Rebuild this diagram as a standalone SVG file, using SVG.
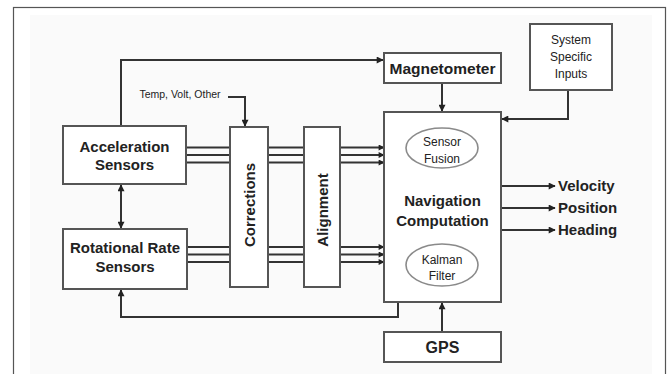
<svg xmlns="http://www.w3.org/2000/svg" width="669" height="374" viewBox="0 0 669 374">
<style>
.box{fill:#fff;stroke:#555;stroke-width:2}
.ell{fill:#fff;stroke:#8a8a8a;stroke-width:1.6}
.ln{fill:none;stroke:#333;stroke-width:2}
.bus{fill:none;stroke:#333;stroke-width:2}
.t{font-family:"Liberation Sans",Arial,sans-serif;fill:#222;text-anchor:middle}
.b{font-weight:bold}
</style>
<defs>
<marker id="ah" viewBox="0 0 10 10" refX="9" refY="5" markerWidth="8" markerHeight="7" markerUnits="userSpaceOnUse" orient="auto-start-reverse">
<path d="M0,0 L10,5 L0,10 z" fill="#222"/>
</marker>
<marker id="sh" viewBox="0 0 10 10" refX="9" refY="5" markerWidth="7" markerHeight="6" markerUnits="userSpaceOnUse" orient="auto">
<path d="M0,0 L10,5 L0,10 z" fill="#222"/>
</marker>
</defs>
<rect x="0" y="0" width="669" height="374" fill="#fff"/>
<rect x="13.5" y="7.5" width="652" height="380" fill="#fff" stroke="#555" stroke-width="1.2"/>
<rect x="30" y="15" width="622" height="360" fill="#fafafa"/>

<g id="connectors">
<!-- top loop to magnetometer -->
<path class="ln" d="M121,126 V60 H383" marker-end="url(#ah)"/>
<!-- temp volt other -->
<path class="ln" d="M228,97 H245 V126" marker-end="url(#ah)"/>
<!-- double arrow -->
<path class="ln" d="M121,185 V228" marker-start="url(#ah)" marker-end="url(#ah)"/>
<!-- feedback loop -->
<path class="ln" d="M398,302 V317 H121 V290" marker-end="url(#ah)"/>
<!-- magnetometer to nav -->
<path class="ln" d="M442,83 V111" marker-end="url(#ah)"/>
<!-- system inputs to nav -->
<path class="ln" d="M568,90 V119 H502" marker-end="url(#ah)"/>
<!-- GPS to nav -->
<path class="ln" d="M442,332 V303" marker-end="url(#ah)"/>
<!-- outputs -->
<path class="ln" d="M501,186 H555" marker-end="url(#ah)"/>
<path class="ln" d="M501,208 H555" marker-end="url(#ah)"/>
<path class="ln" d="M501,230 H555" marker-end="url(#ah)"/>
<!-- buses acceleration -->
<path class="bus" d="M186,147.5 H230 M186,155 H230 M186,162.5 H230"/>
<path class="bus" d="M268,147.5 H304 M268,155 H304 M268,162.5 H304"/>
<path class="bus" d="M340,147.5 H384" marker-end="url(#sh)"/>
<path class="bus" d="M340,155 H384" marker-end="url(#sh)"/>
<path class="bus" d="M340,162.5 H384" marker-end="url(#sh)"/>
<!-- buses rotational -->
<path class="bus" d="M187,247 H230 M187,254.5 H230 M187,262 H230"/>
<path class="bus" d="M268,247 H304 M268,254.5 H304 M268,262 H304"/>
<path class="bus" d="M340,247 H384" marker-end="url(#sh)"/>
<path class="bus" d="M340,254.5 H384" marker-end="url(#sh)"/>
<path class="bus" d="M340,262 H384" marker-end="url(#sh)"/>
</g>

<g id="accel">
<rect class="box" x="63" y="126" width="123" height="58"/>
<text class="t b" x="124.5" y="152" font-size="15">Acceleration</text>
<text class="t b" x="124.5" y="170" font-size="15">Sensors</text>
</g>
<g id="rotational">
<rect class="box" x="63" y="229" width="124" height="60"/>
<text class="t b" x="125" y="253" font-size="15">Rotational Rate</text>
<text class="t b" x="125" y="272" font-size="15">Sensors</text>
</g>
<g id="temp">
<text class="t" x="180" y="98" font-size="10.5">Temp, Volt, Other</text>
</g>
<g id="corrections">
<rect class="box" x="230" y="127" width="38" height="160"/>
<text class="t b" font-size="15" transform="translate(254.5,205) rotate(-90)">Corrections</text>
</g>
<g id="alignment">
<rect class="box" x="304" y="127" width="36" height="160"/>
<text class="t b" font-size="15" transform="translate(327.5,210) rotate(-90)">Alignment</text>
</g>
<g id="magnetometer">
<rect class="box" x="384" y="53" width="117" height="30"/>
<text class="t b" x="442.5" y="74" font-size="15.5">Magnetometer</text>
</g>
<g id="system">
<rect class="box" x="530" y="24" width="82" height="66"/>
<text class="t" x="571" y="44" font-size="12">System</text>
<text class="t" x="571" y="61" font-size="12">Specific</text>
<text class="t" x="571" y="78" font-size="12">Inputs</text>
</g>
<g id="nav">
<rect class="box" x="384" y="112" width="117" height="190"/>
<ellipse class="ell" cx="442" cy="148" rx="36" ry="20"/>
<text class="t" x="442" y="146" font-size="12">Sensor</text>
<text class="t" x="442" y="163" font-size="12">Fusion</text>
<text class="t b" x="442.5" y="206" font-size="15">Navigation</text>
<text class="t b" x="442.5" y="226" font-size="15">Computation</text>
<ellipse class="ell" cx="442" cy="265" rx="36" ry="21"/>
<text class="t" x="442" y="264" font-size="12">Kalman</text>
<text class="t" x="442" y="280" font-size="12">Filter</text>
</g>
<g id="gps">
<rect class="box" x="384" y="332" width="117" height="30"/>
<text class="t b" x="442.5" y="353" font-size="16">GPS</text>
</g>
<g id="outputs">
<text class="t b" x="558" y="191" font-size="15" text-anchor="start" style="text-anchor:start">Velocity</text>
<text class="t b" x="558" y="213" font-size="15" style="text-anchor:start">Position</text>
<text class="t b" x="558" y="235" font-size="15" style="text-anchor:start">Heading</text>
</g>
</svg>
